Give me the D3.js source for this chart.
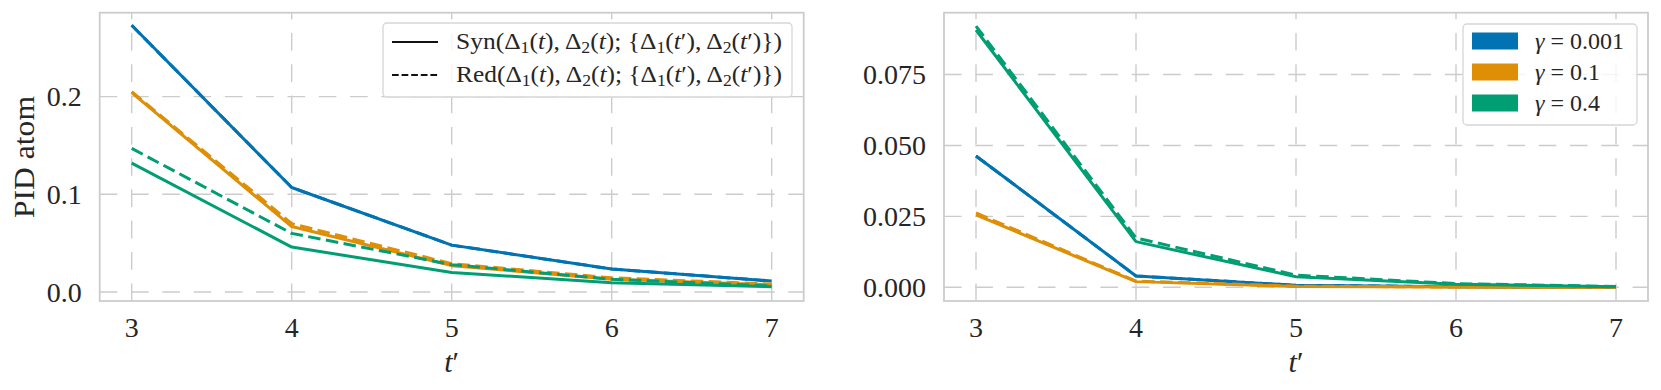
<!DOCTYPE html>
<html>
<head>
<meta charset="utf-8">
<script src="https://cdn.jsdelivr.net/npm/d3@7"></script>
<style>
  html, body { margin: 0; padding: 0; background: #fff; }
  svg { display: block; }
  text { font-family: 'Liberation Serif', 'DejaVu Serif', serif; fill: #262626; }
</style>
</head>
<body>
<div id="chart"></div>
<script>
// ── data ──────────────────────────────────────────────────────────────
const T_PRIME = [3, 4, 5, 6, 7];
const GAMMAS = ['0.001', '0.1', '0.4'];
const COLORS = ['#0173b2', '#de8f05', '#029e73'];

// left panel: synergy (solid) and redundancy (dashed), one per gamma
const SYN_LEFT = [
  [0.273, 0.107, 0.048, 0.0235, 0.0113],
  [0.204, 0.067, 0.027, 0.0130, 0.0075],
  [0.132, 0.046, 0.020, 0.0095, 0.0054]
];
const RED_LEFT = [
  [0.273, 0.107, 0.048, 0.0235, 0.0113],
  [0.205, 0.070, 0.029, 0.0145, 0.0082],
  [0.147, 0.060, 0.028, 0.0130, 0.0062]
];

// right panel
const SYN_RIGHT = [
  [0.0463, 0.0040, 0.0007, 0.0002, 0.0000],
  [0.0255, 0.0020, 0.0003, 0.0001, 0.0000],
  [0.0907, 0.0161, 0.0037, 0.0011, 0.0002]
];
const RED_RIGHT = [
  [0.0463, 0.0040, 0.0007, 0.0002, 0.0000],
  [0.0262, 0.0022, 0.0004, 0.0001, 0.0000],
  [0.0921, 0.0174, 0.0043, 0.0013, 0.0003]
];

const LEFT_TICKS = [0, 0.1, 0.2];
const RIGHT_TICKS = [0, 0.025, 0.05, 0.075];

// ── layout ────────────────────────────────────────────────────────────
const W = 1661, H = 390;
const GRID = '#cccccc';

const svg = d3.select('#chart').append('svg')
  .attr('width', W).attr('height', H).attr('viewBox', `0 0 ${W} ${H}`);

function drawPanel(o) {
  const x = d3.scaleLinear().domain([2.8, 7.2]).range([o.left, o.right]);
  const y = d3.scaleLinear().domain(o.yDomain).range([o.bottom, o.top]);
  const g = svg.append('g');

  // grid (matplotlib draws dashes from left / from bottom)
  g.selectAll('.vgrid').data(T_PRIME).enter().append('line')
    .attr('x1', d => x(d)).attr('x2', d => x(d))
    .attr('y1', o.bottom).attr('y2', o.top)
    .attr('stroke', GRID).attr('stroke-width', 1.4).attr('stroke-dasharray', '17.6,13.7');
  g.selectAll('.hgrid').data(o.ticks).enter().append('line')
    .attr('x1', o.left).attr('x2', o.right)
    .attr('y1', d => y(d)).attr('y2', d => y(d))
    .attr('stroke', GRID).attr('stroke-width', 1.4).attr('stroke-dasharray', '17.6,13.7');

  // tick labels
  g.selectAll('.ytick').data(o.ticks).enter().append('text')
    .attr('x', o.left - 18).attr('y', d => y(d)).attr('dy', '0.34em')
    .attr('text-anchor', 'end').attr('font-size', 28)
    .text(d => d3.format(o.fmt)(d));
  g.selectAll('.xtick').data(T_PRIME).enter().append('text')
    .attr('x', d => x(d)).attr('y', o.bottom + 36)
    .attr('text-anchor', 'middle').attr('font-size', 28)
    .text(d => d);

  // x label  t'
  const xl = g.append('text').attr('x', (o.left + o.right) / 2).attr('y', o.bottom + 71)
    .attr('text-anchor', 'middle').attr('font-size', 30);
  xl.append('tspan').attr('font-style', 'italic').text('t');
  xl.append('tspan').text('\u2032');

  // series
  const line = d3.line().x((d, i) => x(T_PRIME[i])).y(d => y(d));
  o.syn.forEach((vals, k) => {
    g.append('path').datum(vals).attr('d', line)
      .attr('fill', 'none').attr('stroke', COLORS[k]).attr('stroke-width', 3)
      .attr('stroke-linejoin', 'round');
    g.append('path').datum(o.red[k]).attr('d', line)
      .attr('fill', 'none').attr('stroke', COLORS[k]).attr('stroke-width', 3)
      .attr('stroke-linejoin', 'round').attr('stroke-dasharray', '12.5,5.5');
  });

  // frame
  g.append('rect').attr('x', o.left).attr('y', o.top)
    .attr('width', o.right - o.left).attr('height', o.bottom - o.top)
    .attr('fill', 'none').attr('stroke', GRID).attr('stroke-width', 1.8);
  return g;
}

drawPanel({
  left: 99.7, right: 803.7, top: 12.7, bottom: 301,
  yDomain: [-0.0092, 0.2859], ticks: LEFT_TICKS, fmt: '.1f',
  syn: SYN_LEFT, red: RED_LEFT
});
drawPanel({
  left: 944, right: 1648, top: 12.7, bottom: 301,
  yDomain: [-0.00483, 0.0968], ticks: RIGHT_TICKS, fmt: '.3f',
  syn: SYN_RIGHT, red: RED_RIGHT
});

// y label
svg.append('text').attr('transform', 'translate(34,157) rotate(-90)')
  .attr('text-anchor', 'middle').attr('font-size', 29)
  .attr('textLength', 122).attr('lengthAdjust', 'spacingAndGlyphs')
  .text('PID atom');

// ── left legend (line styles) ─────────────────────────────────────────
const lgL = svg.append('g');
lgL.append('rect').attr('x', 383).attr('y', 23).attr('width', 409).attr('height', 74)
  .attr('rx', 4).attr('fill', '#fff').attr('fill-opacity', 0.8)
  .attr('stroke', '#d6d6d6').attr('stroke-width', 1.3);

const LEGEND_ROWS = [
  { name: 'Syn', dash: null, cy: 42 },
  { name: 'Red', dash: '6.7,2.9', cy: 75 }
];
LEGEND_ROWS.forEach(r => {
  lgL.append('line').attr('x1', 392).attr('x2', 438).attr('y1', r.cy).attr('y2', r.cy)
    .attr('stroke', '#111').attr('stroke-width', 1.8)
    .attr('stroke-dasharray', r.dash);
  const t = lgL.append('text').attr('x', 456).attr('y', r.cy + 7).attr('font-size', 23)
    .attr('textLength', 326).attr('lengthAdjust', 'spacingAndGlyphs');
  const parts = [
    [r.name + '(\u0394', null], ['1', 'sub'], ['(', null], ['t', 'it'], ['), \u0394', null], ['2', 'sub'],
    ['(', null], ['t', 'it'], ['); {\u0394', null], ['1', 'sub'], ['(', null], ['t', 'it'],
    ['\u2032), \u0394', null], ['2', 'sub'], ['(', null], ['t', 'it'], ['\u2032)})', null]
  ];
  let wasSub = false;
  parts.forEach(([s, kind]) => {
    const sp = t.append('tspan').text(s);
    if (kind === 'it') sp.attr('font-style', 'italic');
    if (kind === 'sub') { sp.attr('font-size', 16).attr('dy', 4); wasSub = true; }
    else { sp.attr('dy', wasSub ? -4 : 0); wasSub = false; }
  });
});

// ── right legend (gamma colours) ──────────────────────────────────────
const lgR = svg.append('g');
lgR.append('rect').attr('x', 1463).attr('y', 24).attr('width', 174).attr('height', 101)
  .attr('rx', 4).attr('fill', '#fff').attr('fill-opacity', 0.8)
  .attr('stroke', '#d6d6d6').attr('stroke-width', 1.3);
GAMMAS.forEach((gm, k) => {
  const cy = 41 + k * 31;
  lgR.append('rect').attr('x', 1472).attr('y', cy - 8.5).attr('width', 46).attr('height', 17)
    .attr('fill', COLORS[k]);
  const t = lgR.append('text').attr('x', 1535).attr('y', cy + 8).attr('font-size', 24);
  t.append('tspan').attr('font-style', 'italic').text('\u03b3');
  t.append('tspan').text(' = ' + gm);
});
</script>
</body>
</html>
